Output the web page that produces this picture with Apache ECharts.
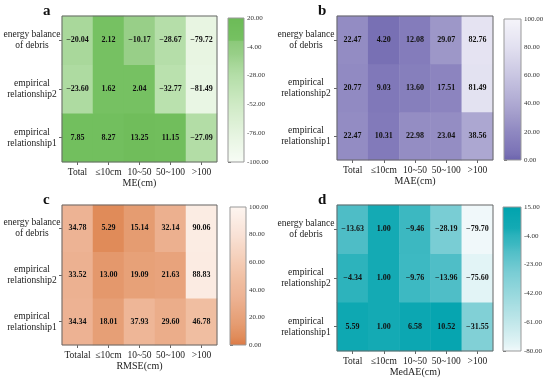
<!DOCTYPE html>
<html><head><meta charset="utf-8">
<script src="https://cdn.jsdelivr.net/npm/echarts@6/dist/echarts.min.js"></script>
<style>html,body{margin:0;padding:0;background:#fff}#c{width:550px;height:382px}</style>
</head><body><div id="c"></div>
<script>
// ---- data ----
const yCats = ['empirical\nrelationship1', 'empirical\nrelationship2', 'energy balance\nof debris'];
const xCats = ['Total', '≤10cm', '10~50', '50~100', '>100'];
const xCatsC = ['Totalal', '≤10cm', '10~50', '50~100', '>100'];

const meEnergy = [-20.04, 2.12, -10.17, -28.67, -79.72];
const meRel2   = [-23.60, 1.62, 2.04, -32.77, -81.49];
const meRel1   = [7.85, 8.27, 13.25, 11.15, -27.09];

const maeEnergy = [22.47, 4.20, 12.08, 29.07, 82.76];
const maeRel2   = [20.77, 9.03, 13.60, 17.51, 81.49];
const maeRel1   = [22.47, 10.31, 22.98, 23.04, 38.56];

const rmseEnergy = [34.78, 5.29, 15.14, 32.14, 90.06];
const rmseRel2   = [33.52, 13.00, 19.09, 21.63, 88.83];
const rmseRel1   = [34.34, 18.01, 37.93, 29.60, 46.78];

const medEnergy = [-13.63, 1.00, -9.46, -28.19, -79.70];
const medRel2   = [-4.34, 1.00, -9.76, -13.96, -75.60];
const medRel1   = [5.59, 1.00, 6.58, 10.52, -31.55];

const meTicks   = ['-100.00', '-76.00', '-52.00', '-28.00', '-4.00', '20.00'];
const maeTicks  = ['0.00', '20.00', '40.00', '60.00', '80.00', '100.00'];
const rmseTicks = ['0.00', '20.00', '40.00', '60.00', '80.00', '100.00'];
const medTicks  = ['-80.00', '-61.00', '-42.00', '-23.00', '-4.00', '15.00'];

const meRange = [-100, 20], maeRange = [0, 100], rmseRange = [0, 100], medRange = [-80, 15];

// ---- colour ramps (style) ----
function hex2rgb(h){return [parseInt(h.slice(1,3),16),parseInt(h.slice(3,5),16),parseInt(h.slice(5,7),16)];}
function ramp(stops, min, max, n){
  const out=[];
  for(let i=0;i<n;i++){
    const v=min+(max-min)*i/(n-1);
    let k=0; while(k<stops.length-2 && v>stops[k+1][0]) k++;
    const a=stops[k], b=stops[k+1];
    let t=(v-a[0])/(b[0]-a[0]); t=Math.max(0,Math.min(1,t));
    const ca=hex2rgb(a[1]), cb=hex2rgb(b[1]);
    const c=ca.map((x,j)=>Math.round(x+(cb[j]-x)*t));
    out.push('rgb('+c.join(',')+')');
  }
  return out;
}
const greenR = ramp([[-100,'#f7fcf5'],[-80,'#e8f5e3'],[-52,'#cfeac5'],[-28,'#b4dea8'],[-20,'#a9d89b'],[-10,'#98cf88'],[0.8,'#8cc97a'],[1.2,'#76c162'],[20,'#6cbb57']], -100, 20, 241);
const purpleR = ramp([[0,'#6b63ad'],[4,'#7870b4'],[9,'#8078b9'],[20,'#8f88c1'],[30,'#9f99c9'],[40,'#aea9d2'],[60,'#c9c6e2'],[80,'#e2e0f0'],[100,'#f5f4fa']], 0, 100, 201);
const orangeR = ramp([[0,'#dc7a45'],[5,'#e08a58'],[15,'#e59c71'],[35,'#edb394'],[47,'#f0bea1'],[60,'#f4ccb5'],[80,'#f9e2d6'],[100,'#fdf5f0']], 0, 100, 201);
const tealR = ramp([[-80,'#f1f9fb'],[-76,'#e3f4f6'],[-61,'#c1e7ea'],[-42,'#97d8dd'],[-28,'#79cdd4'],[-14,'#4fbec7'],[-9.5,'#3cb8c1'],[-4,'#2cb3bc'],[1,'#14aab4'],[15,'#00a3ae']], -80, 15, 191);

function toData(r1, r2, e){
  const rows=[r1,r2,e], d=[];
  rows.forEach((row,yi)=>row.forEach((v,xi)=>d.push([xi,yi,v])));
  return d;
}

const FONT = '"Liberation Serif", "Times New Roman", serif';
const panels = [
  {name:'ME(cm)', letter:'a', x:xCats, data:toData(meRel1,meRel2,meEnergy), range:meRange, colors:greenR, ticks:meTicks,
   grid:{left:62, top:16, width:155, height:146}, bar:{left:228, top:18, width:16, height:144}, lm:30},
  {name:'MAE(cm)', letter:'b', x:xCats, data:toData(maeRel1,maeRel2,maeEnergy), range:maeRange, colors:purpleR, ticks:maeTicks,
   grid:{left:337, top:16, width:156, height:144}, bar:{left:504, top:19, width:17, height:141}, lm:31},
  {name:'RMSE(cm)', letter:'c', x:xCatsC, data:toData(rmseRel1,rmseRel2,rmseEnergy), range:rmseRange, colors:orangeR, ticks:rmseTicks,
   grid:{left:62, top:205, width:155, height:140}, bar:{left:230, top:207, width:16, height:138}, lm:30},
  {name:'MedAE(cm)', letter:'d', x:xCats, data:toData(medRel1,medRel2,medEnergy), range:medRange, colors:tealR, ticks:medTicks,
   grid:{left:337, top:205, width:156, height:146}, bar:{left:503, top:207, width:18, height:144}, lm:31}
];

const option = {animation:false, backgroundColor:'#fff', title:[], grid:[], xAxis:[], yAxis:[], series:[], visualMap:[]};
// heatmap grids: indices 0..3
panels.forEach((p,i)=>{
  option.title.push({text:p.letter, left:p.grid.left-24, top:p.grid.top-17,
    textStyle:{fontFamily:FONT, fontSize:15, fontWeight:'bold', color:'#111'}});
  option.grid.push(Object.assign({show:true, borderColor:'#666', borderWidth:1, backgroundColor:'transparent', z:5}, p.grid));
  option.xAxis.push({type:'category', gridIndex:i, data:p.x, name:p.name, nameLocation:'middle', nameGap:16,
    nameTextStyle:{fontFamily:FONT, fontSize:10, color:'#222'},
    axisLine:{show:false}, splitArea:{show:false},
    axisTick:{show:true, alignWithLabel:true, length:3, lineStyle:{color:'#666'}},
    axisLabel:{fontFamily:FONT, fontSize:9.5, color:'#222', margin:5, interval:0}});
  option.yAxis.push({type:'category', gridIndex:i, data:yCats, axisLine:{show:false},
    axisTick:{show:true, alignWithLabel:true, length:3, lineStyle:{color:'#666'}},
    axisLabel:{fontFamily:FONT, fontSize:9.5, color:'#222', align:'center', margin:p.lm, lineHeight:11}});
  option.series.push({type:'heatmap', xAxisIndex:i, yAxisIndex:i, data:p.data,
    itemStyle:{borderWidth:0},
    label:{show:true, fontFamily:FONT, fontSize:8, fontWeight:'bold', color:'#111',
      formatter:(o)=>o.value[2].toFixed(2).replace('-', '\u2212')}});
  option.visualMap.push({type:'continuous', seriesIndex:i, min:p.range[0], max:p.range[1],
    show:false, inRange:{color:p.colors}});
});
// colorbar grids: indices 4..7
panels.forEach((p,i)=>{
  const gi = 4+i;
  option.grid.push(Object.assign({show:true, borderColor:'#999', borderWidth:1, backgroundColor:'transparent', z:6}, p.bar));
  option.xAxis.push({type:'value', gridIndex:gi, show:false, min:0, max:1});
  option.yAxis.push({type:'category', gridIndex:gi, data:p.ticks, boundaryGap:false, position:'right',
    axisLine:{show:false}, splitLine:{show:false},
    axisTick:{show:true, length:3, lineStyle:{color:'#666'}},
    axisLabel:{fontFamily:FONT, fontSize:7, color:'#333', margin:3, interval:0}});
  const stops = p.colors.map((c,k)=>({offset:k/(p.colors.length-1), color:c}));
  option.series.push({type:'custom', xAxisIndex:gi, yAxisIndex:gi, data:[[0,0]], silent:true, z:1,
    renderItem:(params)=>{
      const cs = params.coordSys;
      return {type:'rect', shape:{x:cs.x, y:cs.y, width:cs.width, height:cs.height},
        style:{fill:new echarts.graphic.LinearGradient(0,1,0,0,stops)}};
    }});
});

const chart = echarts.init(document.getElementById('c'), null, {renderer:'canvas'});
chart.setOption(option);
</script></body></html>
